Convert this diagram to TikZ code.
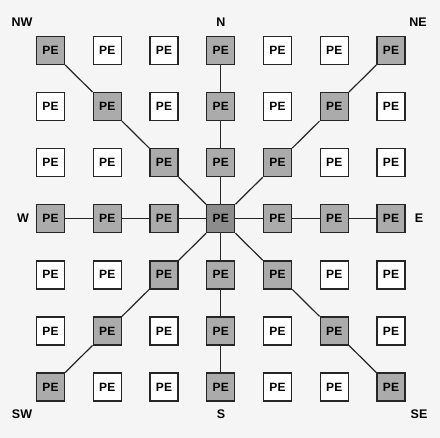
\documentclass[tikz,border=0pt]{standalone}
\usepackage{fontspec}
\setmainfont{Liberation Sans}
\begin{document}
\begin{tikzpicture}[x=1pt,y=-1pt,
  pebox/.style={draw=black!85,line width=1.4pt,fill=white,minimum size=28pt,inner sep=0pt,
    font=\fontsize{12}{12}\selectfont\bfseries},
  peon/.style={pebox,fill=black!33},
  pecenter/.style={pebox,fill=black!45},
  dirlabel/.style={font=\fontsize{12.5}{12.5}\selectfont\bfseries},
  link/.style={draw=black!85,line width=1.2pt}]
\useasboundingbox[fill=black!4] (0,0) rectangle (440,438);
\foreach \i in {0,...,6}{
  \foreach \j in {0,...,6}{
    \pgfmathsetmacro{\xx}{50.5+56.75*\i}
    \pgfmathsetmacro{\yy}{50.5+56.08*\j}
    \pgfmathtruncatemacro{\on}{(\i==3)||(\j==3)||(\i==\j)||(\i+\j==6)}
    \ifnum\on=1
      \ifnum\i=3 \ifnum\j=3
        \node[pecenter] (p\i\j) at (\xx,\yy) {PE};
      \else
        \node[peon] (p\i\j) at (\xx,\yy) {PE};
      \fi\else
        \node[peon] (p\i\j) at (\xx,\yy) {PE};
      \fi
    \else
      \node[pebox] (p\i\j) at (\xx,\yy) {PE};
    \fi
  }
}
\foreach \a/\b in {00/11,11/22,22/33,33/44,44/55,55/66,
                   60/51,51/42,42/33,33/24,24/15,15/06,
                   30/31,31/32,32/33,33/34,34/35,35/36,
                   03/13,13/23,23/33,33/43,43/53,53/63}{
  \draw[link] (p\a) -- (p\b);
}
\node[dirlabel] (nw) at (22,22) {NW};
\node[dirlabel] (n) at (221,22) {N};
\node[dirlabel] (ne) at (418,22) {NE};
\node[dirlabel] (w) at (23,218.5) {W};
\node[dirlabel] (e) at (419,218.5) {E};
\node[dirlabel] (sw) at (22,414) {SW};
\node[dirlabel] (s) at (221,414) {S};
\node[dirlabel] (se) at (419,414) {SE};
\end{tikzpicture}
\end{document}
